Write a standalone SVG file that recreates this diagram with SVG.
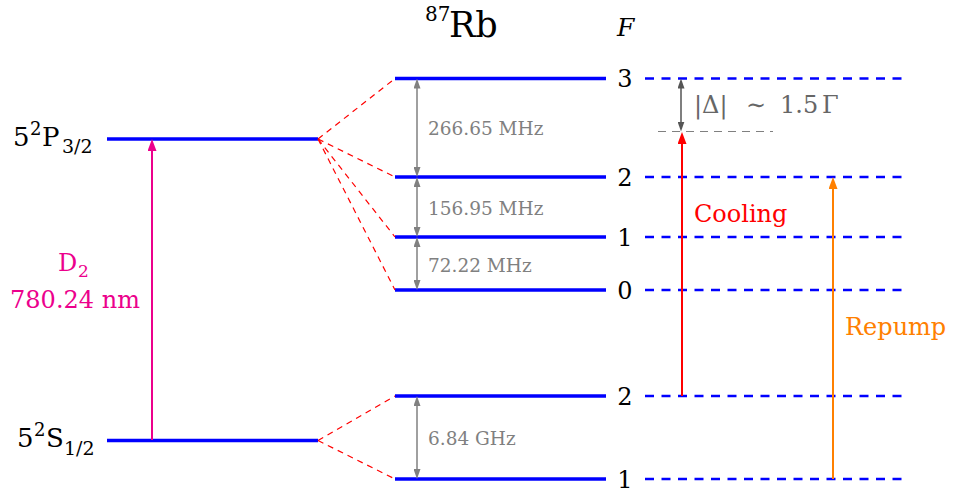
<svg xmlns="http://www.w3.org/2000/svg" width="953" height="493" viewBox="0 0 953 493">
<style>
text{font-family:"DejaVu Serif",serif;}
.lvl{stroke:#0000ff;stroke-width:3.5;fill:none;}
.dlvl{stroke:#0000ff;stroke-width:2.5;stroke-dasharray:9 7.5;fill:none;}
.split{stroke:#ff0000;stroke-width:1.2;stroke-dasharray:6 5;fill:none;}
.gap{stroke:#808080;stroke-width:1.5;fill:none;marker-start:url(#ag);marker-end:url(#ag);}
.num{font-size:24px;fill:#000;text-anchor:middle;}
.main{font-size:24px;}
.state{font-size:26px;}
.freq{font-size:18.5px;fill:#808080;}
</style>
<defs>
<marker id="ag" viewBox="0 0 10 7" refX="7" refY="3.5" markerWidth="10" markerHeight="7" markerUnits="userSpaceOnUse" orient="auto-start-reverse"><path d="M0,0 L10,3.5 L0,7 z" fill="#808080"/></marker>
<marker id="ad" viewBox="0 0 10 7" refX="7" refY="3.5" markerWidth="10" markerHeight="7" markerUnits="userSpaceOnUse" orient="auto-start-reverse"><path d="M0,0 L10,3.5 L0,7 z" fill="#555555"/></marker>
<marker id="am" viewBox="0 0 12 9" refX="9" refY="4.5" markerWidth="12" markerHeight="9" markerUnits="userSpaceOnUse" orient="auto"><path d="M0,0 L12,4.5 L0,9 z" fill="#ec008c"/></marker>
<marker id="ar" viewBox="0 0 12 9" refX="9" refY="4.5" markerWidth="12" markerHeight="9" markerUnits="userSpaceOnUse" orient="auto"><path d="M0,0 L12,4.5 L0,9 z" fill="#ff0000"/></marker>
<marker id="ao" viewBox="0 0 12 9" refX="9" refY="4.5" markerWidth="12" markerHeight="9" markerUnits="userSpaceOnUse" orient="auto"><path d="M0,0 L12,4.5 L0,9 z" fill="#ff8000"/></marker>
</defs>

<g id="header">
<text x="425" y="21" font-size="20">87</text>
<text x="449" y="37" font-size="35">Rb</text>
<text x="617" y="36" font-size="25" font-style="italic">F</text>
</g>

<g id="level-5P32">
<line class="lvl" x1="107" y1="139" x2="318" y2="139"/>
<text class="state" y="146"><tspan x="13">5</tspan><tspan x="30" y="135" font-size="18">2</tspan><tspan x="42" y="146">P</tspan><tspan x="62" y="153" font-size="19">3/2</tspan></text>
</g>

<g id="level-5S12">
<line class="lvl" x1="107" y1="440.5" x2="318" y2="440.5"/>
<text class="state" y="447"><tspan x="17">5</tspan><tspan x="34" y="436" font-size="18">2</tspan><tspan x="46" y="447">S</tspan><tspan x="64" y="455" font-size="19">1/2</tspan></text>
</g>

<g id="level-P-F3">
<line class="lvl" x1="395" y1="78.5" x2="606" y2="78.5"/>
<text class="num" x="625" y="87">3</text>
<line class="dlvl" x1="645" y1="78.5" x2="907" y2="78.5"/>
</g>
<g id="level-P-F2">
<line class="lvl" x1="395" y1="177" x2="606" y2="177"/>
<text class="num" x="625" y="186">2</text>
<line class="dlvl" x1="645" y1="177" x2="907" y2="177"/>
</g>
<g id="level-P-F1">
<line class="lvl" x1="395" y1="237" x2="606" y2="237"/>
<text class="num" x="625" y="246">1</text>
<line class="dlvl" x1="645" y1="237" x2="907" y2="237"/>
</g>
<g id="level-P-F0">
<line class="lvl" x1="395" y1="290" x2="606" y2="290"/>
<text class="num" x="625" y="299">0</text>
<line class="dlvl" x1="645" y1="290" x2="907" y2="290"/>
</g>
<g id="level-S-F2">
<line class="lvl" x1="395" y1="396" x2="606" y2="396"/>
<text class="num" x="625" y="405">2</text>
<line class="dlvl" x1="645" y1="396" x2="907" y2="396"/>
</g>
<g id="level-S-F1">
<line class="lvl" x1="395" y1="479" x2="606" y2="479"/>
<text class="num" x="625" y="488">1</text>
<line class="dlvl" x1="645" y1="479" x2="907" y2="479"/>
</g>

<g id="connectors">
<line class="split" x1="318" y1="139" x2="395" y2="78.5"/>
<line class="split" x1="318" y1="139" x2="395" y2="177"/>
<line class="split" x1="318" y1="139" x2="395" y2="237"/>
<line class="split" x1="318" y1="139" x2="395" y2="290"/>
<line class="split" x1="318" y1="440.5" x2="395" y2="396"/>
<line class="split" x1="318" y1="440.5" x2="395" y2="479"/>

<line class="gap" x1="417" y1="81.5" x2="417" y2="174"/>
<line class="gap" x1="417" y1="180" x2="417" y2="234"/>
<line class="gap" x1="417" y1="240" x2="417" y2="287"/>
<line class="gap" x1="417" y1="399" x2="417" y2="476"/>

<line x1="152" y1="440" x2="152" y2="142" stroke="#ec008c" stroke-width="2" marker-end="url(#am)"/>
<line x1="682" y1="396" x2="682" y2="135" stroke="#ff0000" stroke-width="2" marker-end="url(#ar)"/>
<line x1="833" y1="479" x2="833" y2="180" stroke="#ff8000" stroke-width="2" marker-end="url(#ao)"/>

<line x1="658" y1="131.5" x2="773" y2="131.5" stroke="#808080" stroke-width="1.2" stroke-dasharray="8 6"/>
<line x1="681" y1="81.5" x2="681" y2="128.5" stroke="#555555" stroke-width="1.5" marker-start="url(#ad)" marker-end="url(#ad)"/>
</g>

<g id="labels">
<text class="freq" x="428" y="135">266.65 MHz</text>
<text class="freq" x="428" y="215">156.95 MHz</text>
<text class="freq" x="428" y="272">72.22 MHz</text>
<text class="freq" x="428" y="445">6.84 GHz</text>

<text class="main" y="271" fill="#ec008c"><tspan x="58">D</tspan><tspan x="78" y="277" font-size="17">2</tspan></text>
<text class="main" x="75" y="308" fill="#ec008c" text-anchor="middle">780.24 nm</text>

<text class="main" y="113" fill="#666666"><tspan x="694">|Δ|</tspan><tspan x="746">∼</tspan><tspan x="780">1.5</tspan><tspan x="822">Γ</tspan></text>
<text class="main" x="694" y="222" fill="#ff0000">Cooling</text>
<text class="main" x="845" y="335" fill="#ff8000">Repump</text>
</g>
</svg>
